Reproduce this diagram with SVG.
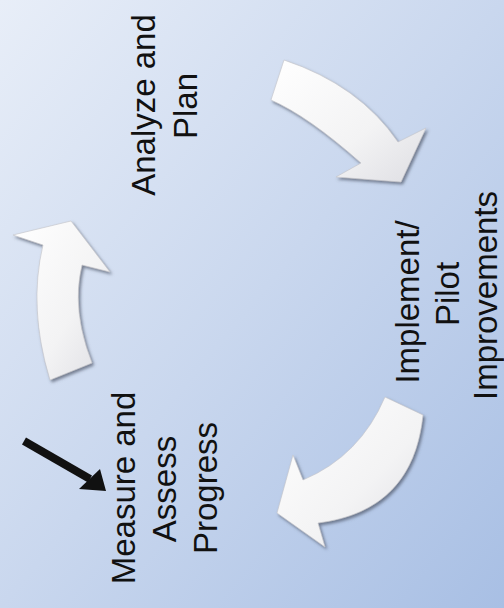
<svg xmlns="http://www.w3.org/2000/svg" width="504" height="608" viewBox="0 0 504 608">
<defs>
<linearGradient id="bg" x1="0" y1="0" x2="1" y2="1">
<stop offset="0" stop-color="#e8eef8"/>
<stop offset="0.5" stop-color="#c9d7ee"/>
<stop offset="1" stop-color="#a8bfe4"/>
</linearGradient>
<linearGradient id="arrowFill" x1="0" y1="0" x2="1" y2="1">
<stop offset="0" stop-color="#ffffff"/>
<stop offset="0.6" stop-color="#f3f3f4"/>
<stop offset="1" stop-color="#dedee3"/>
</linearGradient>
<filter id="shadow" x="-20%" y="-20%" width="140%" height="140%">
<feDropShadow dx="1.8" dy="2.2" stdDeviation="1.8" flood-color="#4e5566" flood-opacity="0.7"/>
</filter>
</defs>
<style>
.label{font-family:"Liberation Sans",Arial,sans-serif;font-size:33px;fill:#111111;text-anchor:middle}
.cyc{fill:url(#arrowFill);stroke:#c2c2c8;stroke-width:0.6;filter:url(#shadow)}
</style>
<rect x="0" y="0" width="504" height="608" fill="url(#bg)"/>
<g id="connectors">
<path class="cyc" d="M284,60 Q359,85 398,142 L426,128 L401,182 L336,177 L361,163 Q308,116 271,100 Z"/>
<path class="cyc" d="M423,415 Q413,511 318,523 L325,547 L277,513 L293,455 L303,480 Q360,456 385,397 Z"/>
<path class="cyc" d="M92,363 Q71,310 82,265 L110,272 L71,221 L13,235 L43,245 Q28,308 50,380 Z"/>
</g>
<g id="pointer">
<line x1="24" y1="441" x2="90" y2="479" stroke="#111111" stroke-width="8"/>
<polygon points="100,469 106,491 79,489" fill="#111111"/>
</g>
<g id="analyze">
<text class="label" transform="translate(155,105) rotate(-90)"><tspan x="0" y="0">Analyze and</tspan><tspan x="-1" y="42">Plan</tspan></text>
</g>
<g id="implement">
<text class="label" transform="translate(419,0) rotate(-90)"><tspan x="-302" y="0">Implement/</tspan><tspan x="-294" y="40">Pilot</tspan><tspan x="-295.5" y="78">Improvements</tspan></text>
</g>
<g id="measure">
<text class="label" transform="translate(135,488) rotate(-90)"><tspan x="0" y="0">Measure and</tspan><tspan x="-1" y="41">Assess</tspan><tspan x="0" y="82">Progress</tspan></text>
</g>
</svg>
